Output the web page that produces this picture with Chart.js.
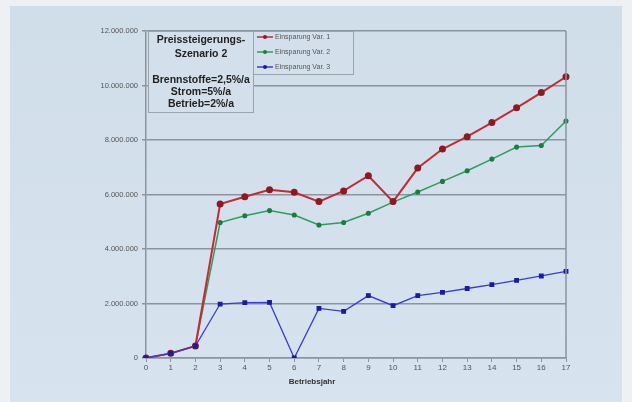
<!DOCTYPE html>
<html>
<head>
<meta charset="utf-8">
<script src="https://cdn.jsdelivr.net/npm/chart.js@4.4.1/dist/chart.umd.min.js"></script>
<style>
  html, body { margin: 0; padding: 0; background: #eef1f4; }
  #wrap { position: relative; width: 632px; height: 402px; overflow: hidden; }
  #panel { position: absolute; left: 10px; top: 6px; width: 612px; height: 396px;
           background: linear-gradient(180deg, #d0deea 0%, #d7e3ee 100%); }
  #chart { position: absolute; left: 0; top: 0; }
</style>
</head>
<body>
<div id="wrap">
  <div id="panel"></div>
  <canvas id="chart" width="632" height="402"></canvas>
</div>
<script>
// Betriebsjahre 0..17
const years = ['0', '1', '2', '3', '4', '5', '6', '7', '8', '9', '10', '11', '12', '13', '14', '15', '16', '17'];

// Einsparung je Variante
const var1 = [0, 170000, 440000, 5650000, 5920000, 6170000, 6080000, 5740000, 6130000, 6690000,
              5740000, 6970000, 7670000, 8120000, 8640000, 9180000, 9740000, 10320000];
const var2 = [0, 170000, 440000, 4970000, 5220000, 5410000, 5250000, 4880000, 4970000, 5310000,
              5720000, 6090000, 6480000, 6870000, 7300000, 7740000, 7800000, 8700000];
const var3 = [0, 170000, 440000, 1980000, 2030000, 2040000, 0, 1820000, 1710000, 2290000,
              1920000, 2290000, 2410000, 2550000, 2690000, 2850000, 3010000, 3180000];

const seriesNames = ['Einsparung Var. 1', 'Einsparung Var. 2', 'Einsparung Var. 3'];
const noteLines = ['Preissteigerungs-', 'Szenario 2', '', 'Brennstoffe=2,5%/a', 'Strom=5%/a', 'Betrieb=2%/a'];
const xTitle = 'Betriebsjahr';

const gridCol = '#8a959e';
const fmt = v => String(v).replace(/\B(?=(\d{3})+(?!\d))/g, '.');

// draws the note box, legend box, right frame and x title
const overlay = {
  id: 'overlay',
  afterDatasetsDraw(chart) {
    const c = chart.ctx, a = chart.chartArea;
    c.save();
    // right frame line
    c.strokeStyle = gridCol;
    c.lineWidth = 1.5;
    c.beginPath();
    c.moveTo(a.right, a.top);
    c.lineTo(a.right, a.bottom);
    c.stroke();

    // note box
    c.fillStyle = '#d3e0eb';
    c.fillRect(148, 31, 105, 81);
    c.strokeStyle = '#9aa4ac';
    c.lineWidth = 1;
    c.strokeRect(148.5, 31.5, 105, 81);
    c.fillStyle = '#222';
    c.font = 'bold 10.5px "Liberation Sans", Arial, sans-serif';
    c.textAlign = 'center';
    c.textBaseline = 'middle';
    const ly = [40, 54, 0, 80, 92, 104];
    noteLines.forEach((t, i) => { if (t) c.fillText(t, 201, ly[i]); });

    // legend box
    c.fillStyle = '#d3e0eb';
    c.fillRect(253, 31, 100, 43);
    c.strokeStyle = '#9aa4ac';
    c.strokeRect(253.5, 31.5, 100, 43);
    c.font = '7px "Liberation Sans", Arial, sans-serif';
    c.textAlign = 'left';
    chart.data.datasets.forEach((ds, i) => {
      const y = 37 + i * 15;
      c.strokeStyle = ds.borderColor;
      c.lineWidth = 1.5;
      c.beginPath();
      c.moveTo(257, y);
      c.lineTo(273, y);
      c.stroke();
      c.fillStyle = ds.pointBackgroundColor;
      c.beginPath();
      c.arc(265, y, 2, 0, Math.PI * 2);
      c.fill();
      c.fillStyle = '#555';
      c.fillText(ds.label, 275, y + 0.5);
    });

    // x axis title
    c.fillStyle = '#333';
    c.font = 'bold 8px "Liberation Sans", Arial, sans-serif';
    c.textAlign = 'center';
    c.fillText(xTitle, 312, 382);
    c.restore();
  }
};

new Chart(document.getElementById('chart').getContext('2d'), {
  type: 'line',
  data: {
    labels: years,
    datasets: [
      {
        label: seriesNames[0], data: var1,
        borderColor: '#c42a35', backgroundColor: '#8c1a24',
        pointBackgroundColor: '#8c1a24', pointBorderColor: '#8c1a24',
        pointRadius: 2.5, borderWidth: 2, order: 2
      },
      {
        label: seriesNames[1], data: var2,
        borderColor: '#2f9c5e', backgroundColor: '#1f7a45',
        pointBackgroundColor: '#1f7a45', pointBorderColor: '#1f7a45',
        pointRadius: 1.8, borderWidth: 1.5, order: 3
      },
      {
        label: seriesNames[2], data: var3,
        borderColor: '#3a3ae0', backgroundColor: '#1c1c9a',
        pointBackgroundColor: '#1c1c9a', pointBorderColor: '#1c1c9a',
        pointRadius: 2.5, borderWidth: 1.3, pointStyle: 'rect', order: 1
      }
    ]
  },
  options: {
    responsive: false,
    animation: false,
    layout: { padding: { left: 0, top: 31, right: 66, bottom: 0 } },
    plugins: { legend: { display: false }, tooltip: { enabled: false } },
    elements: { line: { tension: 0 } },
    scales: {
      x: {
        offset: false,
        afterFit: s => { s.height = 44; },
        grid: { drawOnChartArea: false, drawTicks: true, tickLength: 4, color: gridCol },
        border: { display: true, color: gridCol, width: 1.5 },
        ticks: { color: '#555', padding: 1, maxRotation: 0, autoSkip: false,
                 font: { family: '"Liberation Sans", Arial, sans-serif', size: 8 } }
      },
      y: {
        min: 0, max: 12000000,
        afterFit: s => { s.width = 146; },
        grid: { color: gridCol, lineWidth: 1.5, tickLength: 4 },
        border: { display: true, color: gridCol, width: 1.5 },
        ticks: { stepSize: 2000000, color: '#555', padding: 4, callback: v => fmt(v),
                 font: { family: '"Liberation Sans", Arial, sans-serif', size: 7.5 } }
      }
    }
  },
  plugins: [overlay]
});
</script>
</body>
</html>
